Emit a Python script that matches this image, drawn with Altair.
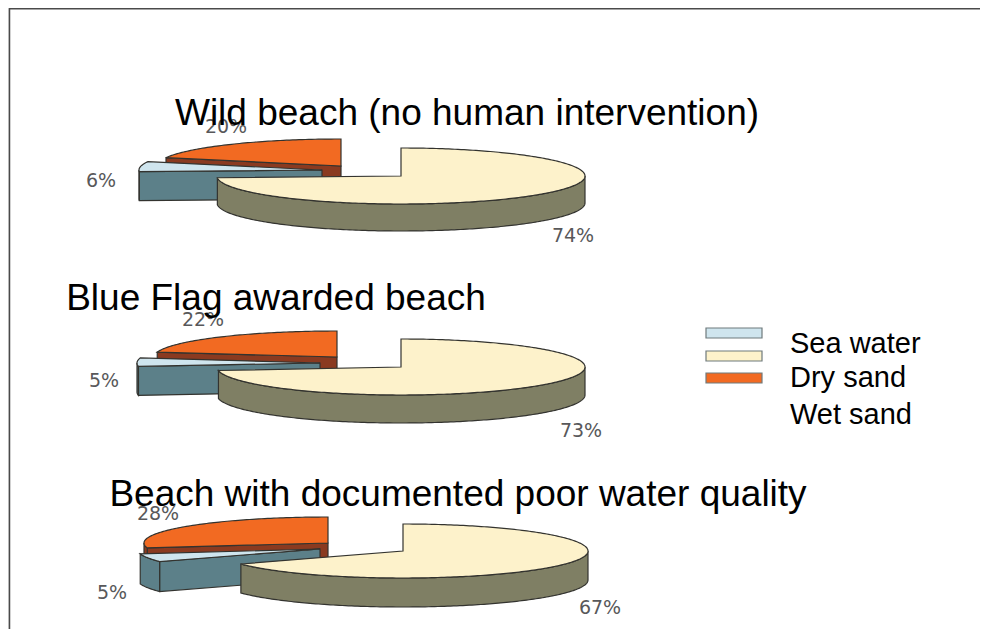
import numpy as np
import pandas as pd
import altair as alt

series = ["Sea water", "Dry sand", "Wet sand"]
pie_titles = ["Wild beach (no human intervention)", "Blue Flag awarded beach",
              "Beach with documented poor water quality"]
sea_water = [6, 5, 5]
dry_sand = [74, 73, 67]
wet_sand = [20, 22, 28]

TOP = {"Sea water": "#CFE5EE", "Dry sand": "#FDF2CB", "Wet sand": "#F26A22"}
SIDE = {"Sea water": "#5C8089", "Dry sand": "#7F7F64", "Wet sand": "#8A3A20"}
EDGE = "#33332f"
OX, OY = 8, 8  # page margin

# layout of each exploded pie: slice apex positions, radii, depth
layout = [
    dict(dry=(401, 176, 184, 28, 27), sea=(322, 170, 183, 27, 29), wet=(341, 166, 184, 27, 27)),
    dict(dry=(401, 367, 184, 28, 28), sea=(320, 363, 183, 27, 29), wet=(337, 357, 183, 26, 27)),
    dict(dry=(403, 551, 185, 27, 29), sea=(320, 549, 183, 26, 30), wet=(328, 543, 184, 26, 26)),
]
title_pos = [(467, 125, 37), (276, 310, 37), (458, 506, 37)]
label_pos = [
    [("6%", 101, 187), ("74%", 573, 242), ("20%", 226, 133)],
    [("5%", 104, 387), ("73%", 581, 437), ("22%", 203, 326)],
    [("5%", 112, 599), ("67%", 600, 614), ("28%", 158, 520)],
]
legend_swatch_y = [328, 351, 373]
legend_label_y = [353, 387, 424]


def pt(cx, cy, rx, ry, a):
    r = np.radians(a)
    return [float(cx + rx * np.sin(r)), float(cy - ry * np.cos(r))]


def arc(cx, cy, rx, ry, a0, a1):
    return [pt(cx, cy, rx, ry, a) for a in np.linspace(a0, a1, max(int(abs(a1 - a0)), 2) + 1)]


def feature(points, fill):
    ring = [[p[0], p[1]] for p in points]
    ring.append(ring[0])
    return {"type": "Feature", "properties": {"fill": fill},
            "geometry": {"type": "Polygon", "coordinates": [ring]}}


def down(points, d):
    return [[p[0], p[1] + d] for p in points]


def slice_shapes(name, geom, a0, a1, cut_face):
    cx, cy, rx, ry, d = geom
    out = []
    if cut_face:
        p = pt(cx, cy, rx, ry, a0)
        tip = [cx, cy]
        out.append(feature([p, tip, [tip[0], tip[1] + d], [p[0], p[1] + d]], SIDE[name]))
    s0, s1 = max(a0, 90), min(a1, 270)
    if s0 < s1:
        rim = arc(cx, cy, rx, ry, s0, s1)
        out.append(feature(rim + down(rim, d)[::-1], SIDE[name]))
    out.append(feature([[cx, cy]] + arc(cx, cy, rx, ry, a0, a1), TOP[name]))
    return out


features = []
for i in range(3):
    dry_end = dry_sand[i] * 3.6
    sea_end = dry_end + sea_water[i] * 3.6
    g = layout[i]
    features += slice_shapes("Wet sand", g["wet"], sea_end, 360, True)
    features += slice_shapes("Sea water", g["sea"], dry_end, sea_end, True)
    features += slice_shapes("Dry sand", g["dry"], 0, dry_end, False)

shapes = alt.Chart(alt.Data(values=features)).mark_geoshape(stroke=EDGE, strokeWidth=1.2).encode(
    fill=alt.Fill("properties.fill:N", scale=None)
).project(type="identity", scale=1, translate=[-OX, -OY])

one = pd.DataFrame({"k": [0]})


def text(label, x, y, size, color="#000000", font="Liberation Sans", align="center"):
    return alt.Chart(one).mark_text(text=label, font=font, fontSize=size, color=color,
                                    align=align, baseline="alphabetic").encode(
        x=alt.value(x - OX), y=alt.value(y - OY))


layers = [shapes]
# frame
layers.append(alt.Chart(one).mark_rule(color="#4a4a4a", strokeWidth=1.5).encode(
    x=alt.value(9.5 - OX), y=alt.value(0), y2=alt.value(632 - OY)))
layers.append(alt.Chart(one).mark_rule(color="#4a4a4a", strokeWidth=1.5).encode(
    y=alt.value(0.7), x=alt.value(9 - OX), x2=alt.value(980 - OX)))

for i, t in enumerate(pie_titles):
    x, y, s = title_pos[i]
    for lab, lx, ly in label_pos[i]:
        layers.append(text(lab, lx, ly, 19, color="#58585a", font="DejaVu Sans"))
    layers.append(text(t, x, y, s))

for i, name in enumerate(series):
    y = legend_swatch_y[i]
    layers.append(alt.Chart(one).mark_rect(fill=TOP[name], stroke="#6f7a7c", strokeWidth=1.2).encode(
        x=alt.value(706 - OX), x2=alt.value(762 - OX), y=alt.value(y - OY), y2=alt.value(y + 10 - OY)))
    layers.append(text(name, 790, legend_label_y[i], 29, align="left"))

chart = alt.layer(*layers).properties(
    width=972, height=621, padding=0, autosize=alt.AutoSizeParams(type="none")
).configure_view(strokeWidth=0).configure(background="white")

chart.save("out.html", embed_options={"renderer": "svg", "actions": False})
